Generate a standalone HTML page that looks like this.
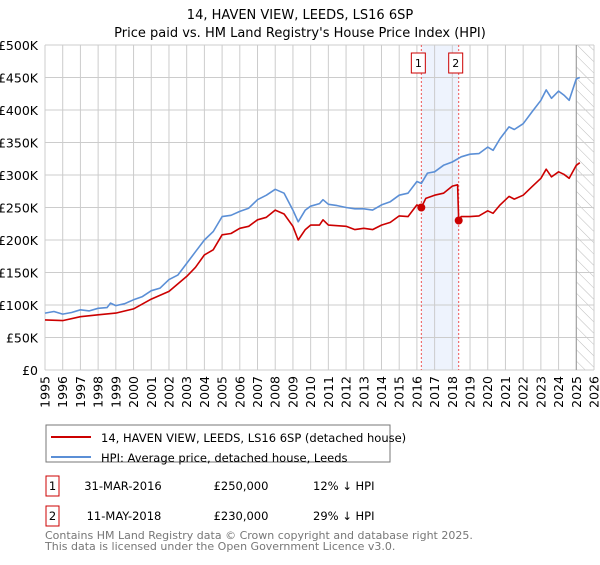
<!DOCTYPE html>
<html><head><meta charset="utf-8"><style>
body{margin:0;background:#fff;width:600px;height:560px;overflow:hidden;font-family:"Liberation Sans","DejaVu Sans",sans-serif}
svg text{font-family:"DejaVu Sans","Liberation Sans",sans-serif}
</style></head><body>
<svg id="c" width="600" height="560" xmlns="http://www.w3.org/2000/svg">
<text x="300" y="19" font-size="13" text-anchor="middle" fill="#000">14, HAVEN VIEW, LEEDS, LS16 6SP</text>
<text x="300" y="37" font-size="13" text-anchor="middle" fill="#000">Price paid vs. HM Land Registry's House Price Index (HPI)</text>
<defs><pattern id="hatch" width="8" height="8" patternUnits="userSpaceOnUse" patternTransform="rotate(-45)"><line x1="0" y1="0" x2="0" y2="8" stroke="#bbb" stroke-width="1"/></pattern></defs>
<g id="grid"></g>
<g id="marks"></g>
<rect x="46" y="425" width="344" height="37" fill="#fff" stroke="#777"/>
<line x1="51" y1="437" x2="91" y2="437" stroke="#cc0000" stroke-width="2"/>
<text x="101" y="442" font-size="11.5">14, HAVEN VIEW, LEEDS, LS16 6SP (detached house)</text>
<line x1="51" y1="457" x2="91" y2="457" stroke="#5b8fd6" stroke-width="2"/>
<text x="101" y="462" font-size="11.5">HPI: Average price, detached house, Leeds</text>
<rect x="46" y="476" width="13" height="20" fill="#fff" stroke="#cc0000"/>
<text x="52.5" y="490" font-size="11.5" text-anchor="middle">1</text>
<text x="123" y="490" font-size="11.5" text-anchor="middle">31-MAR-2016</text>
<text x="241" y="490" font-size="11.5" text-anchor="middle">£250,000</text>
<text x="313" y="490" font-size="11.5">12% ↓ HPI</text>
<rect x="46" y="506" width="13" height="20" fill="#fff" stroke="#cc0000"/>
<text x="52.5" y="520" font-size="11.5" text-anchor="middle">2</text>
<text x="124" y="520" font-size="11.5" text-anchor="middle">11-MAY-2018</text>
<text x="241" y="520" font-size="11.5" text-anchor="middle">£230,000</text>
<text x="313" y="520" font-size="11.5">29% ↓ HPI</text>
<text x="45" y="539" font-size="11" fill="#777">Contains HM Land Registry data © Crown copyright and database right 2025.</text>
<text x="45" y="550" font-size="11" fill="#777">This data is licensed under the Open Government Licence v3.0.</text>
</svg>
<script>
const yTicks=[0,50,100,150,200,250,300,350,400,450,500];
const yTickLabels=["£0","£50K","£100K","£150K","£200K","£250K","£300K","£350K","£400K","£450K","£500K"];
const xYears=[1995,1996,1997,1998,1999,2000,2001,2002,2003,2004,2005,2006,2007,2008,2009,2010,2011,2012,2013,2014,2015,2016,2017,2018,2019,2020,2021,2022,2023,2024,2025,2026];
const hpiT=[1995,1995.5,1996,1996.5,1997,1997.5,1998,1998.5,1998.7,1999,1999.5,2000,2000.5,2001,2001.5,2002,2002.5,2003,2003.5,2004,2004.5,2005,2005.5,2006,2006.5,2007,2007.5,2008,2008.5,2009,2009.3,2009.7,2010,2010.5,2010.7,2011,2011.5,2012,2012.5,2013,2013.5,2014,2014.5,2015,2015.5,2016,2016.25,2016.6,2017,2017.5,2018,2018.5,2019,2019.5,2020,2020.3,2020.7,2021.2,2021.5,2022,2022.5,2023,2023.3,2023.6,2024,2024.3,2024.6,2025,2025.2];
const hpiV=[87.5,90,86,88.5,92.6,91,95,96,103,99,102,108,113,122,126,139,146,164,182,200,213,236,238,244,249,262,269,278,272,246,228,246,252,256,262,255,253,250,248,248,246,254,259,269,272,290,287,303,305,315,320,328,332,333,343,338,356,374,370,379,397,415,431,418,429,423,415,448,450];
const propT=[1995,1996,1997,1998,1999,2000,2001,2002,2003,2003.5,2004,2004.5,2005,2005.5,2006,2006.5,2007,2007.5,2008,2008.5,2009,2009.3,2009.7,2010,2010.5,2010.7,2011,2011.5,2012,2012.5,2013,2013.5,2014,2014.5,2015,2015.5,2016,2016.25,2016.5,2017,2017.5,2018,2018.3,2018.36,2018.5,2019,2019.5,2020,2020.3,2020.7,2021.2,2021.5,2022,2022.5,2023,2023.3,2023.6,2024,2024.3,2024.6,2025,2025.2];
const propV=[77,76,82,85,87.5,94,109,121,144,158,177,185,208,210,218,221,231,235,246,240,221,200,216,223,223,231,223,222,221,216,218,216,223,227,237,236,254,250,264,269,272,283,285,230,236,236,237,245,241,254,267,263,269,282,295,309,297,305,301,295,315,319];
const saleT=[2016.25,2018.36];
const saleV=[250,230];
const saleLabels=["1","2"];

const X0=45,X1=594,Y0=370,Y1=45;
const xs=t=>X0+(t-1995)*(X1-X0)/31;
const ys=v=>Y0-v*(Y0-Y1)/500;
const NS="http://www.w3.org/2000/svg";
function mk(tag,attrs,parent){const e=document.createElementNS(NS,tag);for(const k in attrs)e.setAttribute(k,attrs[k]);parent.appendChild(e);return e;}
const grid=document.getElementById('grid'),marks=document.getElementById('marks');
const band=mk('rect',{x:xs(saleT[0]),y:Y1,width:xs(saleT[1])-xs(saleT[0]),height:Y0-Y1,fill:'#eef3fd'},grid);


const hat=mk('rect',{x:xs(2025),y:Y1,width:X1-xs(2025),height:Y0-Y1,fill:'url(#hatch)'},grid);


yTicks.forEach((v,i)=>{
  mk('line',{x1:X0,x2:X1,y1:ys(v),y2:ys(v),stroke:'#ccc','stroke-width':1},grid);
  const t=mk('text',{x:38,y:ys(v)+5,'font-size':12.5,'text-anchor':'end',fill:'#000'},grid);
  t.textContent=yTickLabels[i];
  
  
});
xYears.forEach(yr=>{
  mk('line',{x1:xs(yr),x2:xs(yr),y1:Y1,y2:Y0,stroke:'#ccc','stroke-width':1},grid);
  const t=mk('text',{x:0,y:0,'font-size':12.5,'text-anchor':'end',transform:`translate(${xs(yr)+4.5},${Y0+6}) rotate(-90)`},grid);
  t.textContent=yr;
  
  
});
mk('line',{x1:xs(2025),x2:xs(2025),y1:Y1,y2:Y0,stroke:'#999','stroke-width':1},grid);
saleT.forEach((t,i)=>{
  const l=mk('line',{x1:xs(t),x2:xs(t),y1:Y1,y2:Y0,stroke:'#ee5555','stroke-width':1,'stroke-dasharray':'2,2'},grid);
  
  
  const r=mk('rect',{x:xs(t)-10,y:53,width:14,height:20,fill:'#fff',stroke:'#cc0000'},grid);
  
  
  const tx=mk('text',{x:xs(t)-3,y:67,'font-size':11,'text-anchor':'middle'},grid);
  tx.textContent=saleLabels[i];
});
function path(T,V,color,name){
  const d=T.map((t,i)=>(i?'L':'M')+xs(t).toFixed(1)+','+ys(V[i]).toFixed(1)).join('');
  const p=mk('path',{d:d,fill:'none',stroke:color,'stroke-width':1.6,'stroke-linejoin':'round'},marks);
  
  
}
path(hpiT,hpiV,'#5b8fd6','hpi-line');
path(propT,propV,'#cc0000','property-price-line');
saleT.forEach((t,i)=>{
  const c=mk('circle',{cx:xs(t),cy:ys(saleV[i]),r:4,fill:'#cc0000'},marks);
  
  
});
</script>
</body></html>
